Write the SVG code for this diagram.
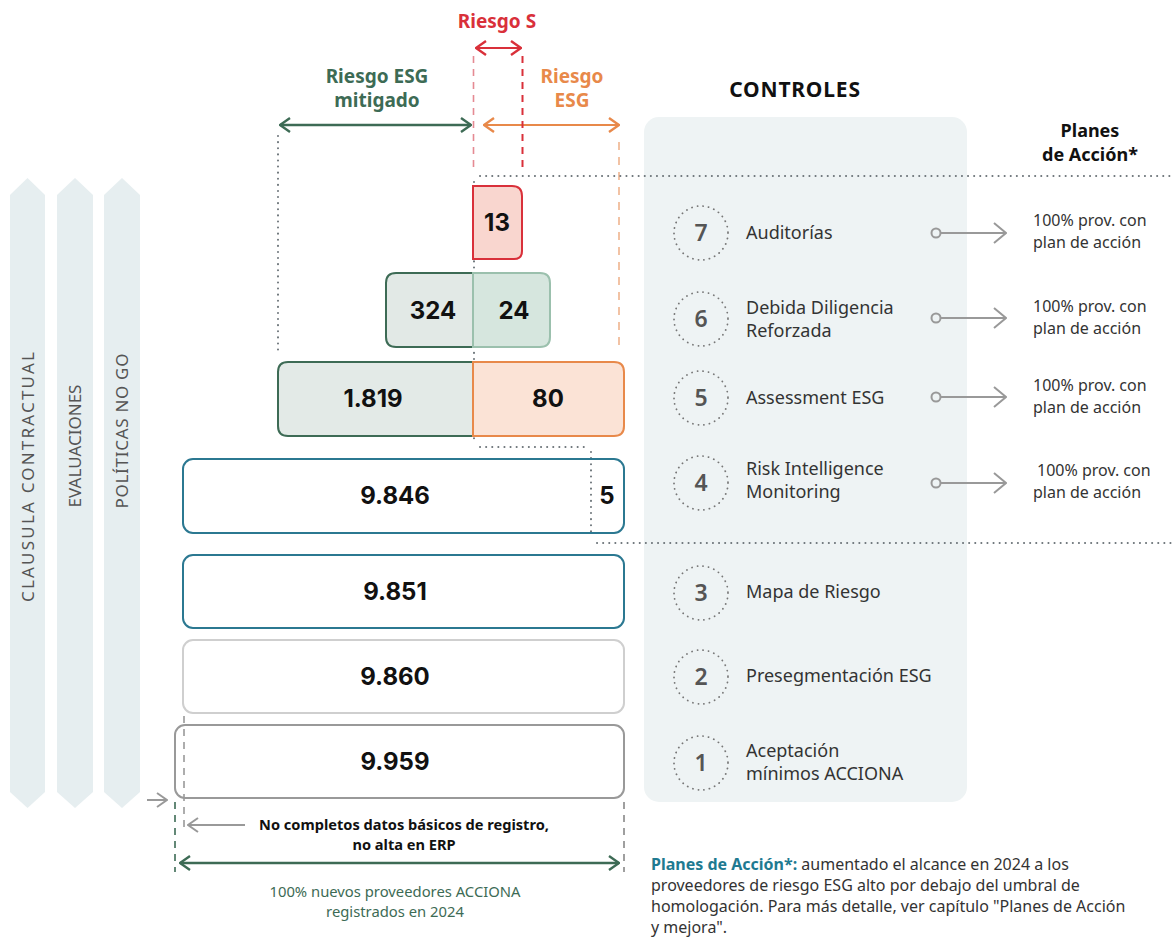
<svg xmlns="http://www.w3.org/2000/svg" width="1173" height="944" viewBox="0 0 1173 944">
<style>
.lbl{font-family:"Noto Sans","Open Sans",sans-serif;font-size:18px;fill:#333}
.num{font-family:"Inter","Noto Sans",sans-serif;font-weight:700;font-size:24px;fill:#111;text-anchor:middle}
.cnum{font-family:"Noto Sans",sans-serif;font-weight:600;font-size:23px;fill:#555;text-anchor:middle}
.plan{font-family:"Noto Sans",sans-serif;font-size:16px;fill:#333}
.bar{font-family:"Noto Sans",sans-serif;font-size:17px;fill:#555;text-anchor:middle}
.hd{font-family:"Noto Sans",sans-serif;font-weight:700;font-size:19px;text-anchor:middle}
.dot{fill:none;stroke:#6b7378;stroke-width:2;stroke-dasharray:0.1 6;stroke-linecap:round}
.circ{fill:none;stroke:#777;stroke-width:1.8;stroke-dasharray:0.1 5.5;stroke-linecap:round}
.arr{fill:none;stroke:#999;stroke-width:2}
</style>
<defs>
<marker id="ag" viewBox="0 0 12 16" refX="11" refY="8" markerWidth="12" markerHeight="16" markerUnits="userSpaceOnUse" orient="auto-start-reverse"><path d="M1,1 L11,8 L1,15" fill="none" stroke="#3d6b55" stroke-width="2.4"/></marker>
<marker id="ao" viewBox="0 0 12 16" refX="11" refY="8" markerWidth="12" markerHeight="16" markerUnits="userSpaceOnUse" orient="auto-start-reverse"><path d="M1,1 L11,8 L1,15" fill="none" stroke="#e8894a" stroke-width="2.4"/></marker>
<marker id="ar" viewBox="0 0 12 16" refX="11" refY="8" markerWidth="12" markerHeight="16" markerUnits="userSpaceOnUse" orient="auto-start-reverse"><path d="M1,1 L11,8 L1,15" fill="none" stroke="#d9303a" stroke-width="2.4"/></marker>
<marker id="ay" viewBox="0 0 12 16" refX="11" refY="8" markerWidth="12" markerHeight="16" markerUnits="userSpaceOnUse" orient="auto"><path d="M1,1 L11,8 L1,15" fill="none" stroke="#999" stroke-width="2"/></marker>
<marker id="ab" viewBox="0 0 14 22" refX="13" refY="11" markerWidth="14" markerHeight="22" markerUnits="userSpaceOnUse" orient="auto"><path d="M1,1 L13,11 L1,21" fill="none" stroke="#999" stroke-width="2"/></marker>
</defs>
<rect width="1173" height="944" fill="#fff"/>

<!-- left bars -->
<g id="bars">
<polygon points="10,195 27.5,178 45,195 45,792 27.5,808 10,792" fill="#e6eef0"/>
<polygon points="57,195 75,178 93,195 93,792 75,808 57,792" fill="#e6eef0"/>
<polygon points="104,195 122,178 140,195 140,792 122,808 104,792" fill="#e6eef0"/>
<text class="bar" transform="translate(34,477) rotate(-90)" font-size="18" textLength="250" lengthAdjust="spacing">CLAUSULA CONTRACTUAL</text>
<text class="bar" transform="translate(81,446) rotate(-90)">EVALUACIONES</text>
<text class="bar" transform="translate(128,431) rotate(-90)" textLength="155" lengthAdjust="spacing">POLÍTICAS NO GO</text>
</g>

<!-- controls panel -->
<g id="panel">
<rect x="644" y="117" width="323" height="685" rx="15" fill="#eef3f4"/>
<text x="795" y="97" font-family="Noto Sans,sans-serif" font-weight="700" font-size="21" letter-spacing="0.8" fill="#111" text-anchor="middle">CONTROLES</text>
<text x="1090" y="137" font-family="Noto Sans,sans-serif" font-weight="700" font-size="18" fill="#111" text-anchor="middle">Planes</text>
<text x="1090" y="161" font-family="Noto Sans,sans-serif" font-weight="700" font-size="18" fill="#111" text-anchor="middle">de Acción*</text>
</g>

<!-- headers -->
<g id="headers">
<text class="hd" x="497" y="28" fill="#d9303a" font-size="20">Riesgo S</text>
<text class="hd" x="377" y="83" fill="#3d6b55">Riesgo ESG</text>
<text class="hd" x="377" y="107" fill="#3d6b55">mitigado</text>
<text class="hd" x="572" y="83" fill="#e8894a">Riesgo</text>
<text class="hd" x="572" y="107" fill="#e8894a">ESG</text>
</g>

<!-- connectors / guide lines -->
<g id="connectors">
<line x1="476" y1="48" x2="521" y2="48" stroke="#d9303a" stroke-width="2.2" marker-start="url(#ar)" marker-end="url(#ar)"/>
<line x1="280" y1="125" x2="471" y2="125" stroke="#3d6b55" stroke-width="2.4" marker-start="url(#ag)" marker-end="url(#ag)"/>
<line x1="484" y1="125" x2="619" y2="125" stroke="#e8894a" stroke-width="2.2" marker-start="url(#ao)" marker-end="url(#ao)"/>
<line x1="473.5" y1="56" x2="473.5" y2="172" stroke="#e58a93" stroke-width="1.6" stroke-dasharray="7 6"/>
<line x1="522.5" y1="56" x2="522.5" y2="170" stroke="#d9303a" stroke-width="2" stroke-dasharray="7 6"/>
<line x1="619" y1="142" x2="619" y2="345" stroke="#efb48e" stroke-width="1.6" stroke-dasharray="8 7"/>
<line x1="278" y1="136" x2="278" y2="350" class="dot"/>
<path d="M480,176 L1173,176" class="dot"/>
<path d="M474,182 L474,441 M480,447 L588,447 M591,452 L591,537 M597,543 L1173,543" class="dot"/>
<!-- bottom -->
<line x1="184" y1="716" x2="184" y2="832" stroke="#999" stroke-width="1.6" stroke-dasharray="7 6"/>
<line x1="175" y1="802" x2="175" y2="872" stroke="#3d6b55" stroke-width="1.6" stroke-dasharray="7 6"/>
<line x1="624" y1="802" x2="624" y2="872" stroke="#777" stroke-width="1.4" stroke-dasharray="7 6"/>
<line x1="147" y1="800" x2="167" y2="800" class="arr" marker-end="url(#ay)"/>
<line x1="245" y1="825" x2="188" y2="825" class="arr" marker-end="url(#ay)"/>
<line x1="180" y1="863" x2="619" y2="863" stroke="#3d6b55" stroke-width="2.4" marker-start="url(#ag)" marker-end="url(#ag)"/>
<!-- action arrows -->
<g class="arr">
<circle cx="936" cy="233" r="4.5"/><line x1="941" y1="233" x2="1006" y2="233" marker-end="url(#ab)"/>
<circle cx="936" cy="318" r="4.5"/><line x1="941" y1="318" x2="1006" y2="318" marker-end="url(#ab)"/>
<circle cx="936" cy="397" r="4.5"/><line x1="941" y1="397" x2="1006" y2="397" marker-end="url(#ab)"/>
<circle cx="936" cy="483" r="4.5"/><line x1="941" y1="483" x2="1006" y2="483" marker-end="url(#ab)"/>
</g>
</g>

<!-- funnel boxes -->
<g id="box13">
<path d="M473,186 L512,186 Q522,186 522,196 L522,251 Q522,259 514,259 L473,259 Z" fill="#f9d6cf" stroke="#d9303a" stroke-width="2"/>
<text class="num" x="497" y="231">13</text>
</g>
<g id="box324">
<path d="M473,273 L396,273 Q386,273 386,283 L386,337 Q386,347 396,347 L473,347" fill="#e2e9e6" stroke="#3d6b55" stroke-width="2"/>
<path d="M473,273 L540,273 Q550,273 550,283 L550,337 Q550,347 540,347 L473,347 Z" fill="#d6e6de" stroke="#9bc0ad" stroke-width="2"/>
<text class="num" x="433" y="319">324</text>
<text class="num" x="514" y="319">24</text>
</g>
<g id="box1819">
<path d="M473,362 L288,362 Q278,362 278,372 L278,426 Q278,436 288,436 L473,436" fill="#e3eae7" stroke="#3d6b55" stroke-width="2"/>
<path d="M473,362 L614,362 Q624,362 624,372 L624,426 Q624,436 614,436 L473,436 Z" fill="#fbe3d6" stroke="#e8894a" stroke-width="2"/>
<text class="num" x="373" y="407">1.819</text>
<text class="num" x="548" y="407">80</text>
</g>
<g id="box9846">
<rect x="183" y="459" width="441" height="74" rx="10" fill="none" stroke="#2b7891" stroke-width="2"/>
<text class="num" x="395" y="504">9.846</text>
<text class="num" x="607" y="504">5</text>
</g>
<g id="box9851">
<rect x="183" y="555" width="441" height="73" rx="10" fill="none" stroke="#2b7891" stroke-width="2"/>
<text class="num" x="395" y="600">9.851</text>
</g>
<g id="box9860">
<rect x="183" y="640" width="441" height="73" rx="10" fill="none" stroke="#cfcfcf" stroke-width="2"/>
<text class="num" x="395" y="685">9.860</text>
</g>
<g id="box9959">
<rect x="175" y="725" width="449" height="73" rx="10" fill="none" stroke="#999" stroke-width="2"/>
<text class="num" x="395" y="770">9.959</text>
</g>

<!-- controls -->
<g id="c7"><circle cx="701" cy="233" r="27" class="circ"/><text class="cnum" x="701" y="241">7</text><text class="lbl" x="746" y="239">Auditorías</text></g>
<g id="c6"><circle cx="701" cy="319" r="27" class="circ"/><text class="cnum" x="701" y="327">6</text><text class="lbl" x="746" y="314">Debida Diligencia</text><text class="lbl" x="746" y="337">Reforzada</text></g>
<g id="c5"><circle cx="701" cy="398" r="27" class="circ"/><text class="cnum" x="701" y="406">5</text><text class="lbl" x="746" y="404">Assessment ESG</text></g>
<g id="c4"><circle cx="701" cy="483" r="27" class="circ"/><text class="cnum" x="701" y="491">4</text><text class="lbl" x="746" y="475">Risk Intelligence</text><text class="lbl" x="746" y="498">Monitoring</text></g>
<g id="c3"><circle cx="701" cy="593" r="27" class="circ"/><text class="cnum" x="701" y="601">3</text><text class="lbl" x="746" y="598">Mapa de Riesgo</text></g>
<g id="c2"><circle cx="701" cy="677" r="27" class="circ"/><text class="cnum" x="701" y="685">2</text><text class="lbl" x="746" y="682">Presegmentación ESG</text></g>
<g id="c1"><circle cx="701" cy="763" r="27" class="circ"/><text class="cnum" x="701" y="771">1</text><text class="lbl" x="746" y="757">Aceptación</text><text class="lbl" x="746" y="780">mínimos ACCIONA</text></g>

<!-- plans -->
<g id="plans">
<text class="plan" x="1033" y="226">100% prov. con</text><text class="plan" x="1033" y="248">plan de acción</text>
<text class="plan" x="1033" y="312">100% prov. con</text><text class="plan" x="1033" y="334">plan de acción</text>
<text class="plan" x="1033" y="391">100% prov. con</text><text class="plan" x="1033" y="413">plan de acción</text>
<text class="plan" x="1037" y="476">100% prov. con</text><text class="plan" x="1033" y="498">plan de acción</text>
</g>

<!-- bottom notes -->
<g id="notes">
<text x="404" y="830" font-family="Noto Sans,sans-serif" font-weight="700" font-size="14.6" fill="#111" text-anchor="middle">No completos datos básicos de registro,</text>
<text x="404" y="850" font-family="Noto Sans,sans-serif" font-weight="700" font-size="14.6" fill="#111" text-anchor="middle">no alta en ERP</text>
<text x="395" y="897" font-family="Noto Sans,sans-serif" font-size="14.8" fill="#3d6b55" text-anchor="middle">100% nuevos proveedores ACCIONA</text>
<text x="395" y="917" font-family="Noto Sans,sans-serif" font-size="14.8" fill="#3d6b55" text-anchor="middle">registrados en 2024</text>
</g>
<g id="footnote" font-family="Noto Sans,sans-serif" font-size="16" fill="#333">
<text x="651" y="870"><tspan font-weight="700" fill="#1f7a91">Planes de Acción*:</tspan> aumentado el alcance en 2024 a los</text>
<text x="651" y="891">proveedores de riesgo ESG alto por debajo del umbral de</text>
<text x="651" y="912">homologación. Para más detalle, ver capítulo "Planes de Acción</text>
<text x="651" y="933">y mejora".</text>
</g>
</svg>
